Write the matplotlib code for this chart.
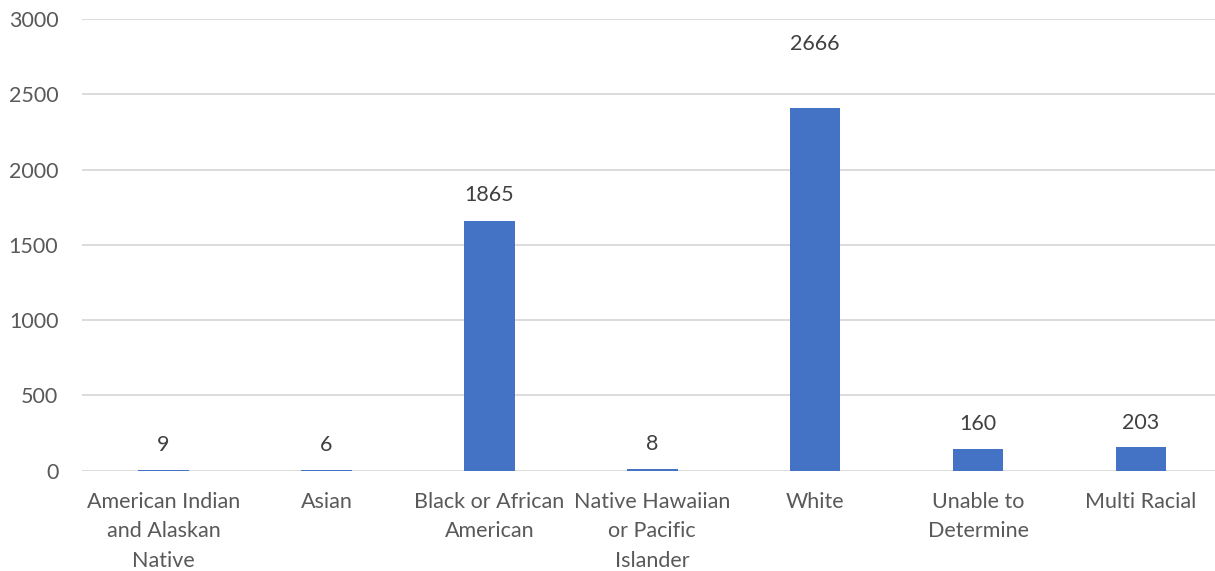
import matplotlib
matplotlib.use("Agg")
import matplotlib.pyplot as plt

categories = ["American Indian\nand Alaskan\nNative", "Asian", "Black or African\nAmerican",
              "Native Hawaiian\nor Pacific\nIslander", "White", "Unable to\nDetermine", "Multi Racial"]
bar_values = [2, 6, 1661, 8, 2409, 145, 156]
label_texts = ["9", "6", "1865", "8", "2666", "160", "203"]
yticks = [0, 500, 1000, 1500, 2000, 2500, 3000]

label_offsets_px = [25, 25, 26, 25, 64, 25, 24]

plt.rcParams['font.family'] = ['Lato', 'DejaVu Sans']

W, H = 1215, 571
fig = plt.figure(figsize=(W / 100, H / 100), dpi=100)
left, right = 82 / W, 1222.5 / W
bottom, top = 1 - 470.7 / H, 1 - 19 / H
ax = fig.add_axes([left, bottom, right - left, top - bottom])

x = list(range(len(categories)))
ax.bar(x, bar_values, width=0.31, color="#4472C4", zorder=3)

for xi, v, t, off in zip(x, bar_values, label_texts, label_offsets_px):
    ax.annotate(t, (xi, v), xytext=(0, off * 0.72), textcoords="offset points",
                ha="center", va="center", fontsize=15.5, color="#404040")

ax.set_xlim(-0.5, len(categories) - 0.5)
ax.set_ylim(0, 3000)
ax.set_yticks(yticks)
ax.set_yticklabels([str(v) for v in yticks])
ax.set_xticks(x)
ax.set_xticklabels(categories, linespacing=1.6)
ax.grid(axis="y", color="#D9D9D9", linewidth=1.3, zorder=0)
ax.set_axisbelow(True)
for s in ax.spines.values():
    s.set_visible(False)
ax.tick_params(axis="y", length=0, pad=17, labelsize=15.5, labelcolor="#595959")
ax.tick_params(axis="x", length=0, pad=15, labelsize=15.5, labelcolor="#595959")
for lbl in ax.get_xticklabels():
    lbl.set_verticalalignment("top")

fig.savefig("out.png", dpi=100)
